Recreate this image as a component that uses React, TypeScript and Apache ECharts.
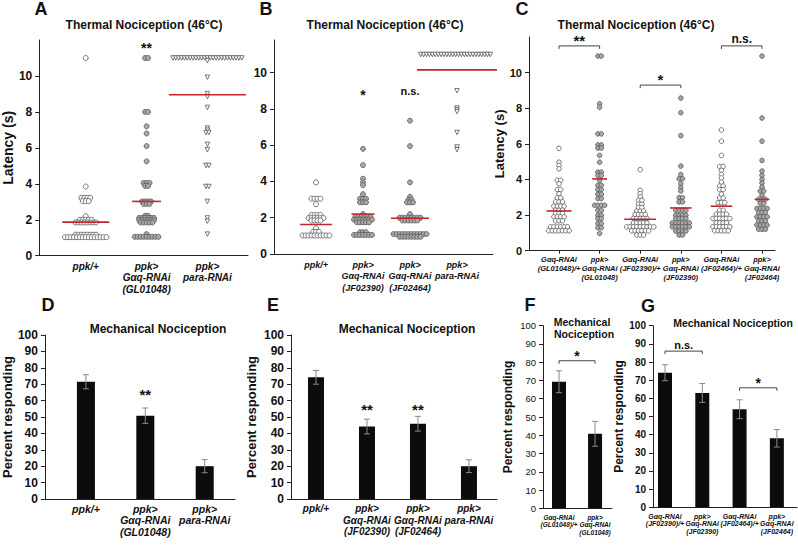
import React, { useEffect, useRef } from "react";
import * as echarts from "echarts";

const FONT = '"Liberation Sans", Arial, Helvetica, sans-serif';

// ---------------- Panel A : thermal latency (s) ----------------
const catsA = ["ppk/+", "ppk>\nGαq-RNAi\n(GL01048)", "ppk>\npara-RNAi"];
// [latency (s), number of larvae with that latency]
const swarmA_ppk = [[11, 1], [3.85, 1], [3.22, 4], [3.04, 3], [2.2, 1], [2.0, 5], [1.85, 8], [1.17, 8], [1.03, 15]];
const swarmA_gaq = [[11, 2], [8.0, 2], [7.2, 1], [6.8, 1], [6.1, 1], [5.25, 1], [4.05, 3], [3.88, 2], [3.02, 4], [2.88, 3], [2.22, 2], [2.1, 6], [1.98, 6], [1.85, 5], [1.2, 1], [1.05, 9]];
const swarmA_para = [[11, 25], [10.85, 1], [9.93, 1], [9.02, 1], [8.85, 1], [8.25, 1], [7.1, 1], [6.98, 1], [6.85, 2], [6.2, 1], [5.9, 1], [5.02, 2], [3.85, 2], [3.02, 1], [2.1, 1], [1.92, 1], [1.2, 1]];
const meanA = [1.87, 3.02, 8.95];

// ---------------- Panel B ----------------
const catsB = ["ppk/+", "ppk>\nGαq-RNAi\n(JF02390)", "ppk>\nGαq-RNAi\n(JF02464)", "ppk>\npara-RNAi"];
const swarmB_ppk = [[3.95, 1], [3.05, 4], [2.75, 1], [2.15, 4], [1.98, 6], [1.85, 4], [1.42, 1], [1.22, 3], [1.02, 10]];
const swarmB_390 = [[5.8, 1], [4.9, 1], [4.15, 1], [3.95, 1], [3.8, 1], [3.3, 1], [3.05, 3], [2.85, 3], [2.2, 1], [2.05, 6], [1.9, 7], [1.75, 5], [1.2, 3], [1.05, 7]];
const swarmB_464 = [[7.35, 1], [5.95, 1], [3.95, 1], [3.15, 1], [3.0, 2], [2.85, 3], [2.2, 1], [2.0, 8], [1.85, 6], [1.1, 12], [0.95, 8]];
const swarmB_para = [[11, 26], [9.0, 1], [8.05, 1], [7.95, 1], [7.85, 1], [6.7, 1], [5.9, 1], [5.75, 1]];
const meanB = [1.63, 2.2, 1.97, 10.15];

// ---------------- Panel C ----------------
const catsC = ["Gαq-RNAi\n(GL01048)/+", "ppk>\nGαq-RNAi\n(GL01048)", "Gαq-RNAi\n(JF02390)/+", "ppk>\nGαq-RNAi\n(JF02390)", "Gαq-RNAi\n(JF02464)/+", "ppk>\nGαq-RNAi\n(JF02464)"];
const swarmC_1 = [[5.75, 1], [4.97, 1], [4.79, 1], [4.6, 1], [3.95, 2], [3.76, 1], [3.43, 2], [3.2, 1], [2.96, 2], [2.74, 3], [2.5, 4], [2.27, 3], [2.09, 3], [1.9, 4], [1.68, 3], [1.34, 6], [1.12, 7]];
const swarmC_2 = [[10.93, 2], [8.25, 1], [8.05, 1], [6.56, 2], [5.94, 2], [5.76, 2], [5.35, 1], [4.97, 1], [4.41, 2], [4.23, 2], [3.95, 1], [3.67, 2], [3.43, 2], [3.17, 2], [2.93, 2], [2.55, 4], [2.27, 2], [1.99, 2], [1.81, 2], [1.53, 2], [1.29, 2], [0.97, 1]];
const swarmC_3 = [[4.55, 1], [3.39, 1], [3.2, 1], [3.02, 1], [2.83, 2], [2.61, 2], [2.42, 2], [2.22, 3], [2.03, 4], [1.81, 5], [1.56, 5], [1.34, 9], [1.12, 6], [0.88, 3]];
const swarmC_4 = [[8.57, 1], [7.75, 1], [6.46, 1], [4.75, 1], [4.28, 1], [4.04, 2], [3.76, 1], [3.54, 1], [3.35, 1], [2.98, 2], [2.74, 2], [2.27, 4], [1.99, 4], [1.81, 4], [1.56, 6], [1.34, 6], [1.1, 4], [0.88, 2]];
const swarmC_5 = [[6.78, 1], [6.15, 1], [5.35, 1], [4.73, 2], [4.51, 1], [4.28, 1], [4.08, 1], [3.85, 1], [3.63, 2], [3.43, 2], [3.17, 1], [2.96, 2], [2.7, 3], [2.27, 2], [2.05, 4], [1.81, 6], [1.56, 4], [1.34, 6], [1.12, 5]];
const swarmC_6 = [[10.93, 1], [7.45, 1], [6.15, 1], [5.07, 1], [4.47, 1], [4.23, 1], [4.0, 1], [3.8, 1], [3.58, 1], [3.35, 2], [3.11, 1], [2.89, 3], [2.65, 2], [2.37, 4], [2.15, 3], [1.9, 4], [1.68, 3], [1.44, 4], [1.2, 3]];
const meanC = [2.23, 4.03, 1.77, 2.4, 2.5, 2.88];

// ---------------- Panels D-G : mechanical, percent responding ----------------
const catsD = ["ppk/+", "ppk>\nGαq-RNAi\n(GL01048)", "ppk>\npara-RNAi"];
const pctD = [71.5, 50.8, 20];
const errD = [4.3, 4.7, 4];

const catsE = ["ppk/+", "ppk>\nGαq-RNAi\n(JF02390)", "ppk>\nGαq-RNAi\n(JF02464)", "ppk>\npara-RNAi"];
const pctE = [74.2, 44.2, 45.9, 20];
const errE = [4.2, 4.5, 4.5, 3.9];

const catsF = ["Gαq-RNAi\n(GL01048)/+", "ppk>\nGαq-RNAi\n(GL01048)"];
const pctF = [69.3, 40.8];
const errF = [6, 6.8];

const catsG = ["Gαq-RNAi\n(JF02390)/+", "ppk>\nGαq-RNAi\n(JF02390)", "Gαq-RNAi\n(JF02464)/+", "ppk>\nGαq-RNAi\n(JF02464)"];
const pctG = [74.1, 63, 54, 38];
const errG = [4.4, 5.2, 5.2, 4.8];

// significance marks: x1..x2 = category positions, y = data value
const sigA = [{ x1: 2, x2: 2, y: 11.55, text: "**" }];
const sigB = [{ x1: 2, x2: 2, y: 8.75, text: "*" }, { x1: 3, x2: 3, y: 9.0, text: "n.s." }];
const sigC = [{ x1: 1, x2: 2, y: 11.5, text: "**" }, { x1: 3, x2: 4, y: 9.3, text: "*" }, { x1: 5, x2: 6, y: 11.5, text: "n.s." }];
const sigD = [{ x1: 2, x2: 2, y: 64, text: "**" }];
const sigE = [{ x1: 2, x2: 2, y: 54.5, text: "**" }, { x1: 3, x2: 3, y: 54.5, text: "**" }];
const sigF = [{ x1: 1, x2: 2, y: 80.8, text: "*" }];
const sigG = [{ x1: 1, x2: 2, y: 86, text: "n.s." }, { x1: 3, x2: 4, y: 65.8, text: "*" }];

const latTicks = [0, 2, 4, 6, 8, 10];
const pctTicks = [0, 10, 20, 30, 40, 50, 60, 70, 80, 90, 100];

// ---------------- layout ----------------
type G = { left: number; top: number; width: number; height: number; xmin: number; xmax: number; ymax: number };
const grids: G[] = [
  { left: 37, top: 40, width: 211, height: 215.7, xmin: 0.236, xmax: 3.667, ymax: 12 }, // A
  { left: 274, top: 40, width: 219, height: 214, xmin: 0.106, xmax: 4.766, ymax: 11.8 }, // B
  { left: 529, top: 37, width: 246, height: 213.7, xmin: 0.261, xmax: 6.32, ymax: 12 }, // C
  { left: 40, top: 335, width: 195, height: 164, xmin: 0.31, xmax: 3.51, ymax: 100 }, // D
  { left: 291, top: 335, width: 206, height: 164, xmin: 0.51, xmax: 4.55, ymax: 100 }, // E
  { left: 543, top: 325.7, width: 69, height: 182.6, xmin: 0.556, xmax: 2.47, ymax: 100 }, // F
  { left: 653, top: 325.7, width: 144, height: 181.6, xmin: 0.678, xmax: 4.54, ymax: 100 }, // G
];

const pxPerX = (g: G) => g.width / (g.xmax - g.xmin);

const AX = "#222";

function xAxis(gi: number, cats: string[], fontSize: number, lineHeight: number, margin: number, ticks: boolean) {
  const g = grids[gi];
  const pos = cats.map((_, i) => i + 1);
  return {
    type: "value",
    gridIndex: gi,
    min: g.xmin,
    max: g.xmax,
    axisLine: { show: true, onZero: false, lineStyle: { color: AX, width: 1 } },
    axisTick: { show: ticks, customValues: pos, length: 3, lineStyle: { color: AX } },
    splitLine: { show: false },
    axisLabel: {
      customValues: pos,
      showMinLabel: true,
      showMaxLabel: true,
      hideOverlap: false,
      formatter: (v: number) => cats[Math.round(v) - 1] || "",
      fontFamily: FONT,
      fontStyle: "italic",
      fontWeight: "bold",
      fontSize,
      lineHeight,
      color: "#111",
      margin,
    },
  };
}

function yAxis(gi: number, ticks: number[], fontSize: number, name: string, nameSize: number, nameGap: number, bold = true) {
  const g = grids[gi];
  return {
    type: "value",
    gridIndex: gi,
    min: 0,
    max: g.ymax,
    axisLine: { show: true, lineStyle: { color: AX, width: 1 } },
    axisTick: { show: true, customValues: ticks, length: 4, lineStyle: { color: AX } },
    splitLine: { show: false },
    axisLabel: { customValues: ticks, showMinLabel: true, showMaxLabel: true, fontFamily: FONT, fontWeight: bold ? "bold" : "normal", fontSize, color: "#111", margin: 7 },
    name,
    nameLocation: "middle",
    nameGap,
    nameTextStyle: { fontFamily: FONT, fontWeight: "bold", fontSize: nameSize, color: "#111" },
  };
}

type Kind = "open" | "grey" | "tri";
function swarm(gi: number, cat: number, groups: number[][], kind: Kind, sp: number, size: number) {
  const u = sp / pxPerX(grids[gi]);
  const data: number[][] = [];
  groups.forEach(([v, n]) => {
    for (let k = 0; k < n; k++) data.push([cat + (k - (n - 1) / 2) * u, v]);
  });
  return {
    type: "scatter",
    xAxisIndex: gi,
    yAxisIndex: gi,
    data,
    symbol: kind === "tri" ? "triangle" : "circle",
    symbolRotate: kind === "tri" ? 180 : 0,
    symbolSize: kind === "tri" ? size - 0.5 : size,
    itemStyle: { color: kind === "grey" ? "#a8a8a8" : "#ffffff", borderColor: "#555", borderWidth: 0.8, opacity: 1 },
    silent: true,
    z: 3,
  };
}

function meanLines(gi: number, means: number[], groupsList: number[][][], sp: number, size: number) {
  const data = means.map((m, i) => {
    const maxN = Math.max(...groupsList[i].map((g) => g[1]));
    return [i + 1, m, ((maxN - 1) * sp + size) / 2];
  });
  return {
    type: "custom",
    xAxisIndex: gi,
    yAxisIndex: gi,
    data,
    silent: true,
    z: 5,
    renderItem: (_p: any, api: any) => {
      const c = api.coord([api.value(0), api.value(1)]);
      const hw = api.value(2);
      return { type: "line", shape: { x1: c[0] - hw, y1: c[1], x2: c[0] + hw, y2: c[1] }, style: { stroke: "#c0272d", lineWidth: 1.6 } };
    },
  };
}

function bars(gi: number, vals: number[], width: number) {
  return {
    type: "bar",
    xAxisIndex: gi,
    yAxisIndex: gi,
    data: vals.map((v, i) => [i + 1, v]),
    barWidth: width,
    itemStyle: { color: "#0c0c0c" },
    silent: true,
    z: 2,
  };
}

function errBars(gi: number, vals: number[], errs: number[]) {
  return {
    type: "custom",
    xAxisIndex: gi,
    yAxisIndex: gi,
    data: vals.map((v, i) => [i + 1, v, errs[i]]),
    silent: true,
    z: 4,
    renderItem: (_p: any, api: any) => {
      const x = api.value(0);
      const m = api.value(1);
      const e = api.value(2);
      const t = api.coord([x, m + e]);
      const b = api.coord([x, m - e]);
      const st = { stroke: "#8a8a8a", lineWidth: 1 };
      return {
        type: "group",
        children: [
          { type: "line", shape: { x1: t[0], y1: t[1], x2: b[0], y2: b[1] }, style: st },
          { type: "line", shape: { x1: t[0] - 3, y1: t[1], x2: t[0] + 3, y2: t[1] }, style: st },
          { type: "line", shape: { x1: b[0] - 3, y1: b[1], x2: b[0] + 3, y2: b[1] }, style: st },
        ],
      };
    },
  };
}

function sigMarks(gi: number, list: { x1: number; x2: number; y: number; text: string }[], fontSize: number) {
  return {
    type: "custom",
    xAxisIndex: gi,
    yAxisIndex: gi,
    data: list.map((a) => [a.x1, a.y, a.x2]),
    silent: true,
    z: 6,
    renderItem: (p: any, api: any) => {
      const a = list[p.dataIndex];
      const p1 = api.coord([a.x1, a.y]);
      const p2 = api.coord([a.x2, a.y]);
      const children: any[] = [];
      const bracket = a.x1 !== a.x2;
      if (bracket) {
        children.push({
          type: "polyline",
          shape: { points: [[p1[0], p1[1] + 3], [p1[0], p1[1]], [p2[0], p2[1]], [p2[0], p2[1] + 3]] },
          style: { stroke: "#444", fill: null, lineWidth: 1 },
        });
      }
      const isStar = a.text.indexOf("*") >= 0;
      children.push({
        type: "text",
        x: (p1[0] + p2[0]) / 2,
        y: bracket ? p1[1] - (isStar ? -2 : 1) : p1[1],
        style: {
          text: a.text,
          fontFamily: FONT,
          fontWeight: "bold",
          fontSize: isStar ? fontSize + 3 : fontSize,
          fill: "#111",
          align: "center",
          verticalAlign: bracket ? "bottom" : "middle",
        },
      });
      return { type: "group", children };
    },
  };
}

function label(text: string, x: number, y: number, size: number) {
  return {
    type: "text",
    x,
    y,
    silent: true,
    style: { text, fontFamily: FONT, fontWeight: "bold", fontSize: size, fill: "#111", align: "center", verticalAlign: "middle" },
  };
}

export default function App() {
  const ref = useRef<HTMLDivElement>(null);
  useEffect(() => {
    if (!ref.current) return;
    const chart = echarts.init(ref.current, undefined, { renderer: "svg", width: 798, height: 546 });
    const SPa = 3.0, SZa = 5;
    const SPc = 3.4, SZc = 4.6;
    const option: any = {
      animation: false,
      backgroundColor: "#ffffff",
      textStyle: { fontFamily: FONT },
      grid: grids.map((g) => ({ left: g.left, top: g.top, width: g.width, height: g.height, containLabel: false })),
      xAxis: [
        xAxis(0, catsA, 10, 11.5, 5, false),
        xAxis(1, catsB, 9, 11.5, 5, false),
        xAxis(2, catsC, 7.5, 9, 4, true),
        xAxis(3, catsD, 10.5, 11.5, 4, false),
        xAxis(4, catsE, 10, 11.5, 4, false),
        xAxis(5, catsF, 6.5, 7.5, 5, false),
        xAxis(6, catsG, 7, 7.5, 5, false),
      ],
      yAxis: [
        yAxis(0, latTicks, 12, "Latency (s)", 14, 20),
        yAxis(1, latTicks, 12, "", 14, 20),
        yAxis(2, latTicks, 11, "Latency (s)", 13, 22),
        yAxis(3, pctTicks, 12, "Percent responding", 13, 28),
        yAxis(4, pctTicks, 12, "Percent responding", 13, 33),
        yAxis(5, pctTicks, 9.5, "Percent responding", 12, 29, false),
        yAxis(6, pctTicks, 10, "Percent responding", 12, 19),
      ],
      series: [
        swarm(0, 1, swarmA_ppk, "open", SPa, SZa),
        swarm(0, 2, swarmA_gaq, "grey", SPa, SZa),
        swarm(0, 3, swarmA_para, "tri", 2.9, SZa),
        meanLines(0, meanA, [swarmA_ppk, swarmA_gaq, swarmA_para], SPa, SZa),
        sigMarks(0, sigA, 11),

        swarm(1, 1, swarmB_ppk, "open", SPa, SZa),
        swarm(1, 2, swarmB_390, "grey", SPa, SZa),
        swarm(1, 3, swarmB_464, "grey", SPa, SZa),
        swarm(1, 4, swarmB_para, "tri", 2.9, SZa),
        meanLines(1, meanB, [swarmB_ppk, swarmB_390, swarmB_464, swarmB_para], SPa, SZa),
        sigMarks(1, sigB, 11),

        swarm(2, 1, swarmC_1, "open", SPc, SZc),
        swarm(2, 2, swarmC_2, "grey", SPc, SZc),
        swarm(2, 3, swarmC_3, "open", SPc, SZc),
        swarm(2, 4, swarmC_4, "grey", SPc, SZc),
        swarm(2, 5, swarmC_5, "open", SPc, SZc),
        swarm(2, 6, swarmC_6, "grey", SPc, SZc),
        meanLines(2, meanC, [swarmC_1, swarmC_2, swarmC_3, swarmC_4, swarmC_5, swarmC_6], SPc, SZc),
        sigMarks(2, sigC, 12),

        bars(3, pctD, 18),
        errBars(3, pctD, errD),
        sigMarks(3, sigD, 12),

        bars(4, pctE, 16),
        errBars(4, pctE, errE),
        sigMarks(4, sigE, 12),

        bars(5, pctF, 14),
        errBars(5, pctF, errF),
        sigMarks(5, sigF, 11),

        bars(6, pctG, 14),
        errBars(6, pctG, errG),
        sigMarks(6, sigG, 11),
      ],
      graphic: [
        label("A", 41, 9, 18),
        label("B", 266, 9, 18),
        label("C", 522, 9, 18),
        label("D", 48, 305, 18),
        label("E", 273, 305, 18),
        label("F", 530, 305, 18),
        label("G", 648, 306, 18),
        label("Thermal Nociception (46°C)", 144, 25, 12),
        label("Thermal Nociception (46°C)", 385, 25, 12),
        label("Thermal Nociception (46°C)", 636, 25, 12),
        label("Mechanical Nociception", 158, 329, 12),
        label("Mechanical Nociception", 407, 329, 12),
        label("Mechanical", 582, 322, 10.5),
        label("Nociception", 584, 334, 10.5),
        label("Mechanical Nociception", 733, 323, 10.5),
      ],
    };
    chart.setOption(option);
    return () => chart.dispose();
  }, []);
  return <div ref={ref} style={{ position: "absolute", left: 0, top: 0, width: 798, height: 546, background: "#fff" }} />;
}
